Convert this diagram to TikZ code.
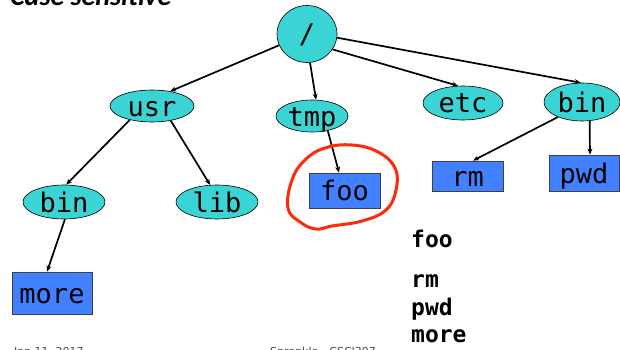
\documentclass[tikz,border=0pt]{standalone}
\usepackage{fontspec}
\setmainfont{DejaVu Sans}
\newfontfamily\treefont{DejaVu Sans Mono}
\newfontfamily\headfont{Carlito}
\usetikzlibrary{shapes.geometric,arrows.meta}
\definecolor{dirfill}{HTML}{3BD4D4}
\definecolor{filefill}{HTML}{4181FF}
\definecolor{loopred}{HTML}{FF2A0A}
\begin{document}
\begin{tikzpicture}[x=1pt,y=-1pt,
  labelfont/.style={font=\treefont\fontsize{27}{27}\selectfont,text height=21pt,text depth=1pt},
  dirnode/.style={ellipse,draw=black,line width=0.6pt,fill=dirfill,inner sep=0pt,labelfont},
  filenode/.style={rectangle,draw=black!75,line width=0.8pt,fill=filefill,inner sep=0pt,labelfont},
  link/.style={line width=1.7pt,-{Stealth[length=6pt,width=5pt]}},
  listing/.style={anchor=base west,inner sep=0pt,font=\treefont\bfseries\fontsize{23}{23}\selectfont},
]
\useasboundingbox (0,0) rectangle (620,350);
\clip (0,0) rectangle (620,350);
\fill[white] (0,0) rectangle (620,350);

% heading, mostly above the top edge
\node[anchor=base west,inner sep=0pt,font=\headfont\bfseries\itshape\fontsize{28}{28}\selectfont] (head) at (10,6) {Case sensitive};

% directories
\node[dirnode,minimum width=60pt,minimum height=57pt] (root) at (307,34) {/};
\node[dirnode,minimum width=84pt,minimum height=32pt] (usr) at (152,106) {usr};
\node[dirnode,minimum width=72pt,minimum height=32pt] (tmp) at (312,116) {tmp};
\node[dirnode,minimum width=80pt,minimum height=34pt] (etc) at (463,103) {etc};
\node[dirnode,minimum width=76pt,minimum height=38pt] (sbin) at (582,102) {bin};
\node[dirnode,minimum width=82pt,minimum height=34pt] (ubin) at (64,202) {bin};
\node[dirnode,minimum width=82pt,minimum height=34pt] (lib) at (217,202) {lib};

% files
\node[filenode,minimum width=71pt,minimum height=35pt] (foo) at (344.5,190.5) {foo};
\node[filenode,minimum width=80pt,minimum height=42pt] (more) at (52,293) {more};
\node[filenode,minimum width=71pt,minimum height=30pt] (rm) at (467.5,176) {rm};
\node[filenode,minimum width=70pt,minimum height=36pt] (pwd) at (584,173) {pwd};

% tree edges
\draw[link] (root.202) -- (usr.39);
\draw[link] (root.-84) -- (tmp.76);
\draw[link] (root.-31) -- (etc.106);
\draw[link] (root.-7) -- (sbin.94);
\draw[link] (usr.212) -- (ubin.83);
\draw[link] (usr.-38) -- (lib.112);
\draw[link] (tmp.-43) -- (foo.107);
\draw[link] (sbin.212) -- (rm.70);
\draw[link] (sbin.-68) -- (pwd.72);
\draw[link] (ubin.-87) -- (more.103);

% hand-drawn loop around foo
\draw[loopred,line width=3pt,line cap=round,line join=round]
  plot[smooth cycle,tension=0.7] coordinates {
    (352,145) (378,152) (395,168) (396,190) (386,210) (362,221)
    (332,226) (316,229) (300,222) (288,208) (292,180) (305,160) (325,148)};

% command list
\node[listing] (lfoo) at (411,247) {foo};
\node[listing] (lrm) at (411,287) {rm};
\node[listing] (lpwd) at (411,315) {pwd};
\node[listing] (lmore) at (411,342) {more};

% footer, mostly below the bottom edge
\node[anchor=base west,inner sep=0pt,font=\fontsize{11}{11}\selectfont,text=black!70] (date) at (14,355) {Jan 11, 2017};
\node[anchor=base west,inner sep=0pt,font=\fontsize{11}{11}\selectfont,text=black!70] (author) at (270,355) {Sprenkle - CSCI397};
\end{tikzpicture}
\end{document}
